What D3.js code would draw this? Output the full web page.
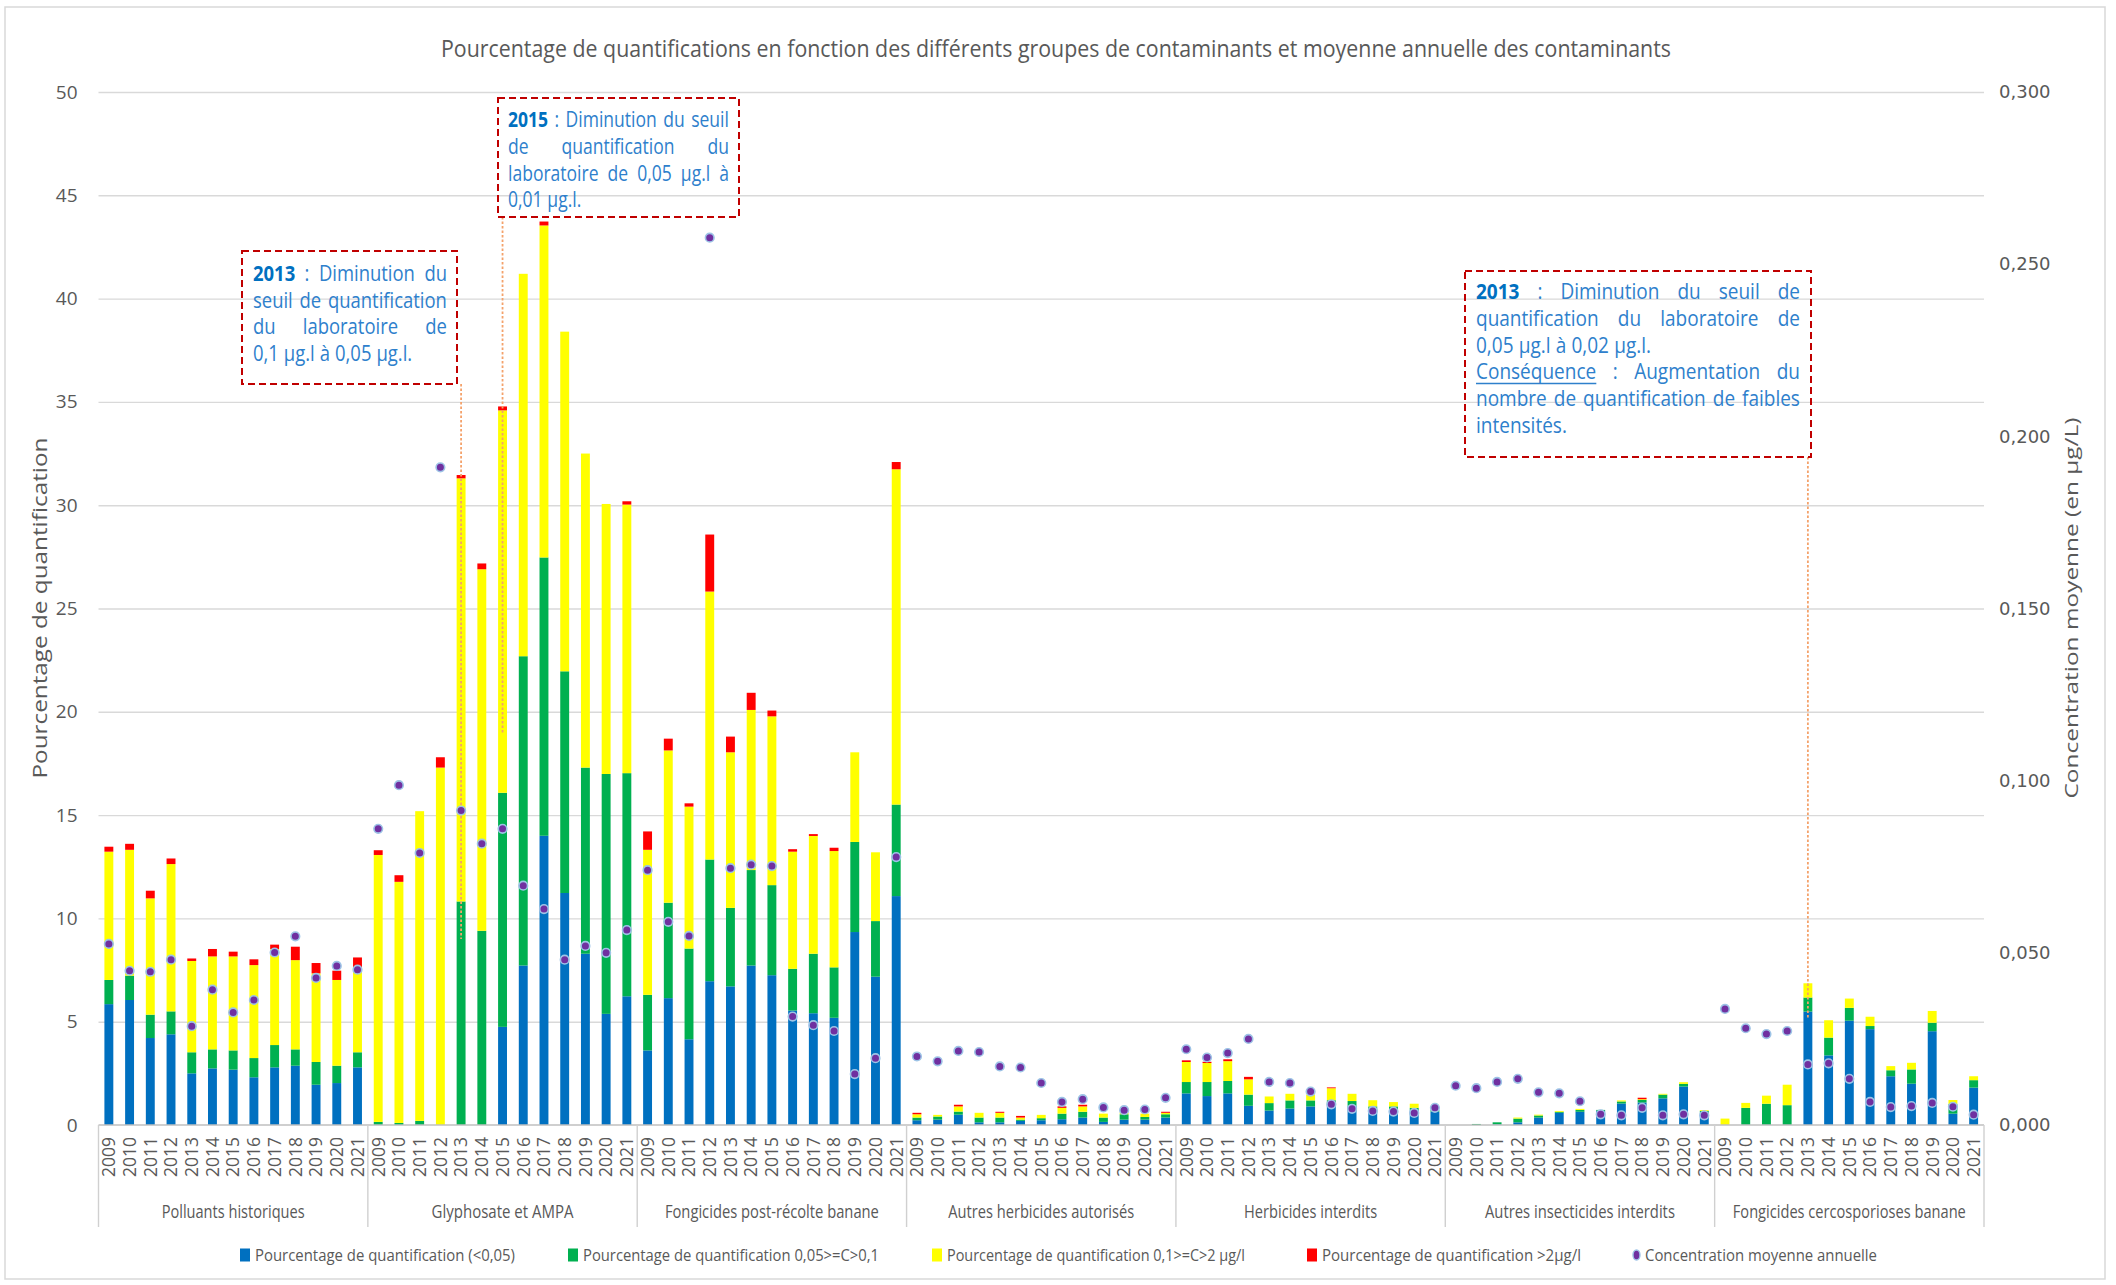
<!DOCTYPE html>
<html><head><meta charset="utf-8">
<script src="https://cdn.jsdelivr.net/npm/d3@7"></script>
<style>body{margin:0;background:#fff;} svg{display:block;}</style>
</head><body>
<svg id="chart" width="2116" height="1285"></svg>
<script>
const groups = ["Polluants historiques","Glyphosate et AMPA","Fongicides post-récolte banane","Autres herbicides autorisés","Herbicides interdits","Autres insecticides interdits","Fongicides cercosporioses banane"];
const years = ["2009","2010","2011","2012","2013","2014","2015","2016","2017","2018","2019","2020","2021"];

// % quantification < 0,05
const pctBelow005 = [
 [5.85,6.05,4.21,4.39,2.50,2.74,2.68,2.31,2.79,2.87,1.95,2.03,2.79],
 [0,0,0,0,0,0,4.75,7.72,14.00,11.23,8.29,5.38,6.23],
 [3.61,6.14,4.15,6.96,6.71,7.72,7.25,5.54,5.41,5.19,9.34,7.18,11.08],
 [0.23,0.26,0.50,0.13,0.13,0.20,0.23,0.28,0.36,0.15,0.26,0.26,0.36],
 [1.53,1.40,1.53,0.93,0.70,0.80,0.90,1.00,0.93,0.77,0.77,0.72,0.64],
 [0,0,0.03,0.13,0.36,0.59,0.64,0.68,1.04,1.09,1.29,1.86,0.60],
 [0,0,0,0,5.49,3.37,5.05,4.64,2.36,2.00,4.54,0.55,1.81]
];
// % quantification 0,05>=C>0,1
const pct005to01 = [
 [1.17,1.18,1.13,1.11,1.02,0.92,0.93,0.93,1.08,0.79,1.10,0.84,0.73],
 [0.15,0.10,0.20,0,10.82,9.40,11.33,14.97,13.47,10.73,9.01,11.61,10.80],
 [2.69,4.62,4.39,5.89,3.80,4.62,4.36,2.02,2.88,2.44,4.36,2.69,4.43],
 [0.13,0.15,0.15,0.23,0.23,0.06,0.10,0.27,0.28,0.21,0.26,0.13,0.16],
 [0.55,0.68,0.60,0.54,0.36,0.39,0.29,0.20,0.23,0.13,0.13,0.11,0.08],
 [0,0.05,0.10,0.18,0.10,0.05,0.09,0.05,0.10,0.12,0.18,0.13,0.08],
 [0,0.83,1.03,0.96,0.68,0.86,0.62,0.15,0.29,0.69,0.41,0.46,0.36]
];
// % quantification 0,1>=C>2 µg/l
const pct01to2 = [
 [6.21,6.09,5.63,7.13,4.42,4.50,4.55,4.50,4.65,4.32,4.29,4.15,3.90],
 [12.92,11.67,14.99,17.30,20.48,17.50,18.51,18.51,16.07,16.44,15.20,13.07,13.00],
 [7.02,7.37,6.87,12.97,7.53,7.75,8.17,5.67,5.70,5.63,4.34,3.33,16.23],
 [0.16,0.08,0.25,0.23,0.23,0.10,0.16,0.28,0.26,0.19,0.08,0.16,0.07],
 [0.97,0.92,0.96,0.74,0.32,0.32,0.28,0.58,0.35,0.30,0.21,0.20,0],
 [0,0,0,0.05,0.04,0.04,0.05,0,0.05,0.04,0.04,0.08,0.04],
 [0.31,0.24,0.39,0.99,0.69,0.84,0.45,0.45,0.20,0.32,0.57,0.20,0.19]
];
// % quantification > 2 µg/l
const pctAbove2 = [
 [0.24,0.29,0.37,0.27,0.12,0.36,0.23,0.28,0.21,0.65,0.50,0.45,0.69],
 [0.23,0.32,0,0.50,0.16,0.28,0.19,0,0.19,0,0,0,0.16],
 [0.89,0.57,0.16,2.76,0.76,0.83,0.28,0.12,0.09,0.16,0,0,0.35],
 [0.07,0,0.08,0,0.05,0.08,0,0.07,0.08,0,0,0,0.05],
 [0.08,0.06,0.09,0.12,0,0,0,0.04,0,0,0,0,0],
 [0,0,0,0,0,0,0,0,0,0.07,0,0,0],
 [0,0,0,0,0,0,0,0,0,0,0,0,0]
];
// Concentration moyenne annuelle (µg/L)
const meanConc = [
 [0.0526,0.0448,0.0445,0.0480,0.0287,0.0393,0.0327,0.0363,0.0501,0.0548,0.0427,0.0462,0.0451],
 [0.0860,0.0987,0.0790,0.1910,0.0913,0.0817,0.0860,0.0695,0.0627,0.0480,0.0520,0.0500,0.0566],
 [0.0740,0.0590,0.0549,0.2577,0.0746,0.0756,0.0752,0.0315,0.0290,0.0273,0.0148,0.0194,0.0778],
 [0.0199,0.0185,0.0215,0.0212,0.0170,0.0167,0.0122,0.0067,0.0075,0.0051,0.0043,0.0045,0.0079],
 [0.0220,0.0196,0.0209,0.0250,0.0125,0.0122,0.0097,0.0060,0.0047,0.0041,0.0039,0.0035,0.0050],
 [0.0114,0.0107,0.0125,0.0134,0.0095,0.0092,0.0069,0.0031,0.0028,0.0050,0.0028,0.0031,0.0028],
 [0.0337,0.0281,0.0264,0.0273,0.0176,0.0179,0.0134,0.0067,0.0052,0.0055,0.0064,0.0053,0.0030]
];
const leftTicks = [0,5,10,15,20,25,30,35,40,45,50];
const rightTicks = [0,0.05,0.10,0.15,0.20,0.25,0.30];
const seriesNames = ["Pourcentage de quantification (<0,05)","Pourcentage de quantification 0,05>=C>0,1","Pourcentage de quantification 0,1>=C>2 µg/l","Pourcentage de quantification >2µg/l","Concentration moyenne annuelle"];
const titleText = "Pourcentage de quantifications en fonction des différents groupes de contaminants et moyenne annuelle des contaminants";

// ---- layout / style ----
const colors = ["#0070C0","#00B050","#FFFF00","#FF0000"];
const dotFill = "#7030A0", dotStroke = "#9DC3E6";
const textGrey = "#595959";
const L = 98.5, R = 1984, T = 92, B = 1125;

const svg = d3.select("#chart");
svg.append("rect").attr("x",5).attr("y",7).attr("width",2100).attr("height",1272)
  .attr("fill","#fff").attr("stroke","#d9d9d9").attr("stroke-width",1.5);

const rows = [];
groups.forEach((g,gi) => years.forEach((yr,yi) => rows.push({
  key: g+"|"+yr, g, yr,
  s0: pctBelow005[gi][yi], s1: pct005to01[gi][yi], s2: pct01to2[gi][yi], s3: pctAbove2[gi][yi],
  c: meanConc[gi][yi]
})));

const x = d3.scaleBand().domain(rows.map(d=>d.key)).range([L,R]).paddingInner(0.57).paddingOuter(0.285);
const y = d3.scaleLinear().domain([0,50]).range([B,T]);
const y2 = d3.scaleLinear().domain([0,0.3]).range([B,T]);

function fit(sel, w){ sel.attr("textLength", w).attr("lengthAdjust","spacingAndGlyphs"); return sel; }

// title
fit(svg.append("text").attr("x",1056).attr("y",57).attr("text-anchor","middle")
  .attr("font-family","Open Sans").attr("font-size",24).attr("fill",textGrey).text(titleText), 1230);

// gridlines
const grid = svg.append("g").attr("transform",`translate(${L},0)`)
  .call(d3.axisLeft(y).tickValues(leftTicks.filter(v=>v>0)).tickSize(-(R-L)).tickFormat(""));
grid.select(".domain").remove();
grid.selectAll("line").attr("stroke","#d9d9d9").attr("stroke-width",1.4);

// left axis
const ax = svg.append("g").attr("transform",`translate(${L},0)`)
  .call(d3.axisLeft(y).tickValues(leftTicks).tickSize(0).tickPadding(21));
ax.select(".domain").remove();
ax.selectAll("text").attr("font-family","Open Sans").attr("font-size",19).attr("fill",textGrey);

// right axis
const fmt = d3.format(".3f");
const ax2 = svg.append("g").attr("transform",`translate(${R},0)`)
  .call(d3.axisRight(y2).tickValues(rightTicks).tickSize(0).tickPadding(15).tickFormat(d=>fmt(d).replace(".",",")));
ax2.select(".domain").remove();
ax2.selectAll("text").attr("font-family","DejaVu Sans").attr("font-size",18).attr("fill",textGrey);

// axis titles
fit(svg.append("text").attr("transform","translate(40,608) rotate(-90)").attr("text-anchor","middle").attr("dy","0.35em")
  .attr("font-family","Open Sans").attr("font-size",20).attr("fill",textGrey).text("Pourcentage de quantification"), 341);
fit(svg.append("text").attr("transform","translate(2071,608) rotate(-90)").attr("text-anchor","middle").attr("dy","0.35em")
  .attr("font-family","Open Sans").attr("font-size",19).attr("fill",textGrey).text("Concentration moyenne (en µg/L)"), 381);

// stacked bars
const stack = d3.stack().keys(["s0","s1","s2","s3"]);
const layers = stack(rows);
svg.append("g").selectAll("g").data(layers).join("g").attr("fill",(d,i)=>colors[i])
  .selectAll("rect").data(d=>d).join("rect")
  .attr("x",d=>x(d.data.key)).attr("width",x.bandwidth())
  .attr("y",d=>y(d[1])).attr("height",d=>Math.max(0,y(d[0])-y(d[1])));

// x axis baseline + year labels
svg.append("line").attr("x1",L).attr("x2",R).attr("y1",B).attr("y2",B).attr("stroke","#bfbfbf").attr("stroke-width",1.4);
const xa = svg.append("g").attr("transform",`translate(0,${B})`)
  .call(d3.axisBottom(x).tickSize(0).tickFormat(d=>d.split("|")[1]));
xa.select(".domain").remove();
xa.selectAll("text").attr("transform","rotate(-90)").attr("x",-12).attr("y",0).attr("dy","0.36em")
  .attr("text-anchor","end").attr("font-family","Open Sans").attr("font-size",17.5).attr("fill",textGrey);

// group separators and labels
groups.forEach((g,i)=>{
  const x0 = x(g+"|"+years[0]) - (x.step()-x.bandwidth())/2;
  const x1 = x(g+"|"+years[years.length-1]) + x.bandwidth() + (x.step()-x.bandwidth())/2;
  svg.append("line").attr("x1",x0).attr("x2",x0).attr("y1",B).attr("y2",1227).attr("stroke","#d0d0d0").attr("stroke-width",1.4);
  if(i===groups.length-1) svg.append("line").attr("x1",x1).attr("x2",x1).attr("y1",B).attr("y2",1227).attr("stroke","#d0d0d0").attr("stroke-width",1.4);
});
const groupLabelW = [143,142,214,186,133,190,233];
groups.forEach((g,i)=>{
  const cx = (x(g+"|"+years[0]) + x(g+"|"+years[years.length-1]) + x.bandwidth())/2;
  fit(svg.append("text").attr("x",cx).attr("y",1218).attr("text-anchor","middle")
    .attr("font-family","Open Sans").attr("font-size",19).attr("fill",textGrey).text(g), groupLabelW[i]);
});

// annotations
const noteBlue = "#0070C0", noteText = "#2E80CC";
const notes = [
  {box:[242,251,457,384], tx:[253,447], base:281, lh:26.7, fs:21, justify:[1,1,1,0],
   lines:[[{t:"2013",b:1},{t:":"},{t:"Diminution"},{t:"du"}],
          [{t:"seuil"},{t:"de"},{t:"quantification"}],
          [{t:"du"},{t:"laboratoire"},{t:"de"}],
          [{t:"0,1"},{t:"µg.l"},{t:"à"},{t:"0,05"},{t:"µg.l."}]],
   link:{key:"Glyphosate et AMPA|2013", to:9}},
  {box:[498,98,739,217], tx:[508,729], base:127, lh:26.8, fs:21, justify:[1,1,1,0],
   lines:[[{t:"2015",b:1},{t:":"},{t:"Diminution"},{t:"du"},{t:"seuil"}],
          [{t:"de"},{t:"quantification"},{t:"du"}],
          [{t:"laboratoire"},{t:"de"},{t:"0,05"},{t:"µg.l"},{t:"à"}],
          [{t:"0,01"},{t:"µg.l."}]],
   link:{key:"Glyphosate et AMPA|2015", to:19}},
  {box:[1465,271,1811,457], tx:[1476,1800], base:299, lh:26.8, fs:21, justify:[1,1,0,1,1,0],
   lines:[[{t:"2013",b:1},{t:":"},{t:"Diminution"},{t:"du"},{t:"seuil"},{t:"de"}],
          [{t:"quantification"},{t:"du"},{t:"laboratoire"},{t:"de"}],
          [{t:"0,05"},{t:"µg.l"},{t:"à"},{t:"0,02"},{t:"µg.l."}],
          [{t:"Conséquence",u:1},{t:":"},{t:"Augmentation"},{t:"du"}],
          [{t:"nombre"},{t:"de"},{t:"quantification"},{t:"de"},{t:"faibles"}],
          [{t:"intensités."}]],
   link:{key:"Fongicides cercosporioses banane|2013", to:5.2}}
];
notes.forEach(n=>{
  const g = svg.append("g");
  const cx = x(n.link.key) + x.bandwidth()/2;
  g.append("line").attr("x1",cx).attr("x2",cx).attr("y1",n.box[3]).attr("y2",y(n.link.to))
    .attr("stroke","#F4A26B").attr("stroke-width",1.8).attr("stroke-dasharray","2.5,2");
  g.append("rect").attr("x",n.box[0]).attr("y",n.box[1]).attr("width",n.box[2]-n.box[0]).attr("height",n.box[3]-n.box[1])
    .attr("fill","none").attr("stroke","#C00000").attr("stroke-width",2).attr("stroke-dasharray","7,4");
  const tg = g.append("g");
  const W = n.tx[1]-n.tx[0];
  const space = n.fs*0.27;
  const ld = n.lines.map(ws => ws.map(w => {
    const t = tg.append("text").text(w.t).attr("font-family","Open Sans").attr("font-size",n.fs)
      .attr("font-weight", w.b?700:400).attr("fill", w.b?noteBlue:noteText);
    return {w, t, width: t.node().getComputedTextLength()};
  }));
  const maxNat = d3.max(ld, ws => d3.sum(ws,d=>d.width) + space*(ws.length-1) + (ws.length-1)*2);
  const sx = Math.min(1, W/maxNat);
  const Ws = W/sx;
  ld.forEach((ws,i)=>{
    const tot = d3.sum(ws,d=>d.width);
    const gap = (n.justify[i] && ws.length>1) ? (Ws-tot)/(ws.length-1) : space;
    let cxp = 0;
    const yy = n.base + i*n.lh;
    ws.forEach(d=>{
      d.t.attr("x",cxp).attr("y",yy);
      if(d.w.u) tg.append("line").attr("x1",cxp).attr("x2",cxp+d.width).attr("y1",yy+4).attr("y2",yy+4)
        .attr("stroke",noteText).attr("stroke-width",1.5);
      cxp += d.width + gap;
    });
  });
  tg.attr("transform",`translate(${n.tx[0]},0) scale(${sx},1)`);
});

// dots
svg.append("g").selectAll("circle").data(rows).join("circle")
  .attr("cx",d=>x(d.key)+x.bandwidth()/2).attr("cy",d=>y2(d.c)).attr("r",4.3)
  .attr("fill",dotFill).attr("stroke",dotStroke).attr("stroke-width",1.6);

// legend
const legX = [240,568,932,1307,1632];
const legW = [260,296,298,259,232];
const legY = 1255;
const lg = svg.append("g");
seriesNames.forEach((s,i)=>{
  if(i<4) lg.append("rect").attr("x",legX[i]).attr("y",legY-6.5).attr("width",10).attr("height",13).attr("fill",colors[i]);
  else lg.append("ellipse").attr("cx",legX[i]+4.5).attr("cy",legY).attr("rx",3.5).attr("ry",5)
        .attr("fill",dotFill).attr("stroke",dotStroke).attr("stroke-width",1.4);
  fit(lg.append("text").attr("x",legX[i]+(i<4?15:13)).attr("y",legY).attr("dy","0.35em")
    .attr("font-family","Open Sans").attr("font-size",17).attr("fill",textGrey).text(s), legW[i]);
});
</script>
</body></html>
